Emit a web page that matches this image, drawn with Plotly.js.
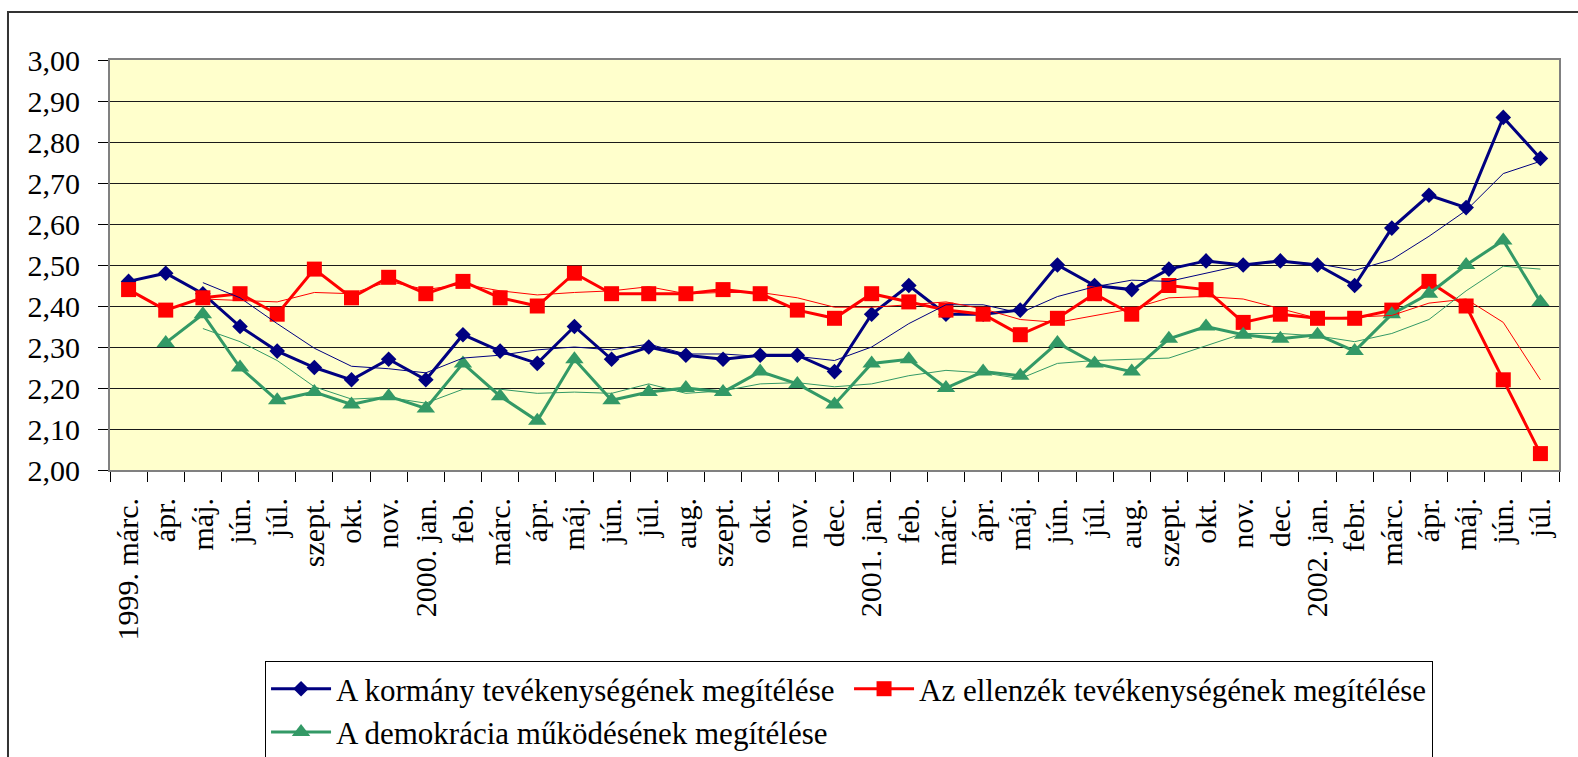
<!DOCTYPE html>
<html>
<head>
<meta charset="utf-8">
<script src="https://cdn.plot.ly/plotly-3.0.1.min.js"></script>
<style>
  html, body { margin: 0; padding: 0; background: #ffffff; }
  #chart { width: 1578px; height: 757px; }
</style>
</head>
<body>
<div id="chart"></div>
<script>
const labels = ["1999. márc.","ápr.","máj.","jún.","júl.","szept.","okt.","nov.","2000. jan.","feb.","márc.","ápr.","máj.","jún.","júl.","aug.","szept.","okt.","nov.","dec.","2001. jan.","feb.","márc.","ápr.","máj.","jún.","júl.","aug.","szept.","okt.","nov.","dec.","2002. jan.","febr.","márc.","ápr.","máj.","jún.","júl."];

const seriesNames = ["A kormány tevékenységének megítélése", "Az ellenzék tevékenységének megítélése", "A demokrácia működésének megítélése"];

const kormany = [2.46,2.48,2.43,2.35,2.29,2.25,2.22,2.27,2.22,2.33,2.29,2.26,2.35,2.27,2.30,2.28,2.27,2.28,2.28,2.24,2.38,2.45,2.38,2.38,2.39,2.50,2.45,2.44,2.49,2.51,2.50,2.51,2.50,2.45,2.59,2.67,2.64,2.86,2.76];
const ellenzek = [2.44,2.39,2.42,2.43,2.38,2.49,2.42,2.47,2.43,2.46,2.42,2.40,2.48,2.43,2.43,2.43,2.44,2.43,2.39,2.37,2.43,2.41,2.39,2.38,2.33,2.37,2.43,2.38,2.45,2.44,2.36,2.38,2.37,2.37,2.39,2.46,2.40,2.22,2.04];
const demokracia = [null,2.31,2.38,2.25,2.17,2.19,2.16,2.18,2.15,2.26,2.18,2.12,2.27,2.17,2.19,2.20,2.19,2.24,2.21,2.16,2.26,2.27,2.20,2.24,2.23,2.31,2.26,2.24,2.32,2.35,2.33,2.32,2.33,2.29,2.38,2.43,2.50,2.56,2.41];

// thin trend lines (moving averages)
const kormanyTrend = [null,null,2.457,2.420,2.357,2.297,2.253,2.247,2.237,2.273,2.280,2.293,2.300,2.293,2.307,2.283,2.283,2.277,2.277,2.267,2.300,2.357,2.403,2.403,2.383,2.423,2.447,2.463,2.460,2.480,2.500,2.507,2.503,2.487,2.513,2.570,2.633,2.723,2.753];
const ellenzekTrend = [null,null,2.417,2.413,2.410,2.433,2.430,2.460,2.440,2.453,2.437,2.427,2.433,2.437,2.447,2.430,2.433,2.433,2.420,2.397,2.397,2.403,2.410,2.393,2.367,2.360,2.377,2.393,2.420,2.423,2.417,2.393,2.370,2.373,2.377,2.407,2.417,2.360,2.220];
const demokraciaTrend = [null,null,2.345,2.313,2.267,2.203,2.173,2.177,2.163,2.197,2.197,2.187,2.190,2.187,2.210,2.187,2.193,2.210,2.213,2.203,2.210,2.230,2.243,2.237,2.223,2.260,2.267,2.270,2.273,2.303,2.333,2.333,2.327,2.313,2.333,2.367,2.437,2.497,2.490];

const yTicks = [2.0,2.1,2.2,2.3,2.4,2.5,2.6,2.7,2.8,2.9,3.0];

const pos = labels.map((_, i) => i);

const NAVY = "#000080", RED = "#FF0000", GREEN = "#339966";
const FONT = "Liberation Serif, Times New Roman, serif";

const traces = [
  { x: pos, y: kormany, name: seriesNames[0], type: "scatter", mode: "lines+markers",
    line: { color: NAVY, width: 3 }, marker: { symbol: "diamond", size: 12, color: NAVY } },
  { x: pos, y: ellenzek, name: seriesNames[1], type: "scatter", mode: "lines+markers",
    line: { color: RED, width: 3 }, marker: { symbol: "square", size: 15, color: RED } },
  { x: pos, y: demokracia, name: seriesNames[2], type: "scatter", mode: "lines+markers",
    line: { color: GREEN, width: 3 }, marker: { symbol: "triangle-up", size: 16, color: GREEN } },
  { x: pos, y: kormanyTrend, type: "scatter", mode: "lines", showlegend: false, hoverinfo: "skip",
    line: { color: NAVY, width: 1 } },
  { x: pos, y: ellenzekTrend, type: "scatter", mode: "lines", showlegend: false, hoverinfo: "skip",
    line: { color: RED, width: 1 } },
  { x: pos, y: demokraciaTrend, type: "scatter", mode: "lines", showlegend: false, hoverinfo: "skip",
    line: { color: GREEN, width: 1 } }
];

const layout = {
  width: 1578, height: 757,
  margin: { l: 110, r: 19, t: 60, b: 287, autoexpand: false },
  paper_bgcolor: "#ffffff",
  plot_bgcolor: "#FFFFCC",
  separators: ", ",
  font: { family: FONT, size: 30, color: "#000" },
  showlegend: true,
  xaxis: {
    range: [-0.5, labels.length - 0.5],
    tickmode: "array", tickvals: pos, ticktext: labels,
    tickangle: -90, ticks: "", showgrid: false, zeroline: false,
    showline: true, mirror: true, linecolor: "#808080", linewidth: 2,
    tickfont: { family: FONT, size: 30, color: "#000" },
    ticklabelstandoff: 14,
    minor: { tickmode: "linear", tick0: -0.5, dtick: 1, ticks: "outside", ticklen: 10, tickcolor: "#000", tickwidth: 1, showgrid: false }
  },
  yaxis: {
    range: [2, 3],
    tickmode: "array", tickvals: yTicks,
    tickformat: ".2f",
    ticks: "outside", ticklen: 10, tickcolor: "#000", tickwidth: 1,
    showgrid: true, gridcolor: "#1a1a1a", gridwidth: 1,
    zeroline: false,
    showline: true, mirror: true, linecolor: "#808080", linewidth: 2,
    tickfont: { family: FONT, size: 30, color: "#000" },
    ticklabelstandoff: 12
  },
  legend: {
    orientation: "h",
    x: 0.107, y: -0.466, xanchor: "left", yanchor: "top",
    bgcolor: "#ffffff", bordercolor: "#000", borderwidth: 1,
    font: { family: FONT, size: 31, color: "#000" },
    entrywidth: 508, entrywidthmode: "pixels",
    itemwidth: 60,
    tracegroupgap: 0
  },
  shapes: [
    { type: "rect", xref: "paper", yref: "paper",
      x0: -0.0704, x1: 1.05, y0: -0.8, y1: 1.117,
      line: { color: "#333", width: 2 }, fillcolor: "rgba(0,0,0,0)", layer: "below" }
  ]
};

Plotly.newPlot("chart", traces, layout, { displayModeBar: false, staticPlot: true });
</script>
</body>
</html>
